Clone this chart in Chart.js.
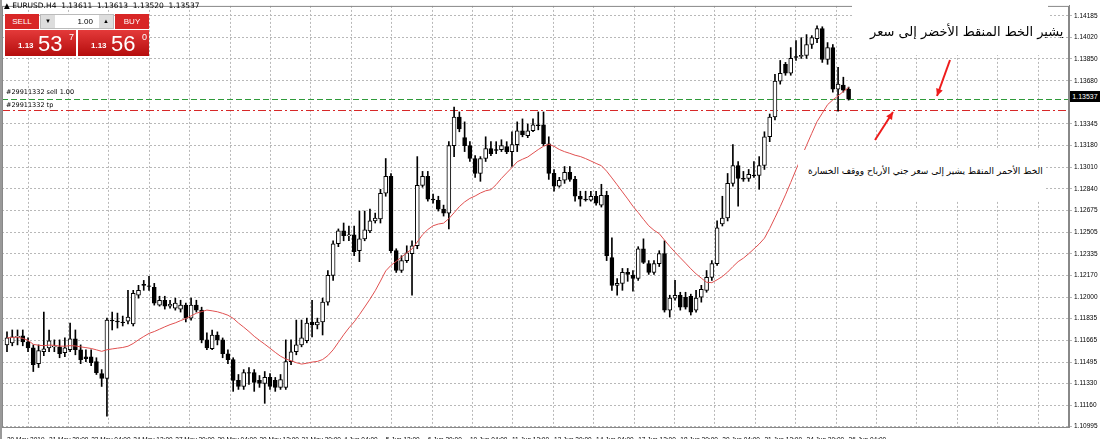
<!DOCTYPE html>
<html><head><meta charset="utf-8">
<script src="https://cdn.jsdelivr.net/npm/chart.js@4.4.1/dist/chart.umd.min.js"></script>
<style>
body{margin:0;background:#fff;font-family:Tahoma,"DejaVu Sans",sans-serif}
#wrap{position:relative;width:1101px;height:439px;overflow:hidden}
canvas{position:absolute;left:0;top:0}
.ov{position:absolute;font-size:7px;color:#000;white-space:nowrap}
.btn{position:absolute;background:linear-gradient(#e43a3a,#b50d0d);color:#fff;font-family:"Liberation Sans",Arial,sans-serif}
</style></head><body>
<div id="wrap">
<canvas id="c" width="1101" height="439"></canvas>
<div class="ov" style="left:4px;top:1px;font-size:7.5px;font-family:'DejaVu Sans',sans-serif">▲ EURUSD.H4&nbsp; 1.13611&nbsp; 1.13613&nbsp; 1.13520&nbsp; 1.13537</div>
<div class="btn" style="left:5px;top:14px;width:34px;height:15px;font-size:8px;line-height:15px;text-align:center;background:#d82626">SELL</div>
<div style="position:absolute;left:40px;top:14px;width:74px;height:15px;background:#fff;border:1px solid #bbb;box-sizing:border-box;font-size:8px;font-family:'Liberation Sans',Arial;line-height:13px"><span style="position:absolute;left:0;width:14px;height:13px;background:#ddd;text-align:center;font-size:6px">▼</span><span style="position:absolute;right:20px">1.00</span><span style="position:absolute;right:0;width:14px;height:13px;background:#ddd;text-align:center;font-size:6px">▲</span></div>
<div class="btn" style="left:115px;top:14px;width:34px;height:15px;font-size:8px;line-height:15px;text-align:center;background:#d82626">BUY</div>
<div class="btn" style="left:5px;top:30px;width:71px;height:26px"><span style="position:absolute;left:13px;top:11px;font-size:8px;font-weight:bold">1.13</span><span style="position:absolute;left:33px;top:1px;font-size:22px">53</span><span style="position:absolute;left:64px;top:2px;font-size:9px">7</span></div>
<div class="btn" style="left:78px;top:30px;width:71px;height:26px"><span style="position:absolute;left:13px;top:11px;font-size:8px;font-weight:bold">1.13</span><span style="position:absolute;left:33px;top:1px;font-size:22px">56</span><span style="position:absolute;left:64px;top:2px;font-size:9px">0</span></div>
<div class="ov" style="left:6px;top:88px;font-size:6.5px">#29911332 sell 1.00</div>
<div class="ov" style="left:6px;top:101px;font-size:6.5px">#29911332 tp</div>
<div style="position:absolute;left:852px;top:3px;width:196px;height:52px;background:#fff"></div>
<div class="ov" dir="rtl" style="left:870px;top:24px;font-size:13px;font-family:'DejaVu Sans',sans-serif">يشير الخط المنقط الأخضر إلى سعر</div>
<div style="position:absolute;left:798px;top:150px;width:248px;height:50px;background:#fff"></div>
<div class="ov" dir="rtl" style="left:808px;top:166px;font-size:9px;font-family:'DejaVu Sans',sans-serif">الخط الأحمر المنقط يشير إلى سعر جني الأرباح ووقف الخسارة</div>
<div style="position:absolute;left:1070px;top:91px;width:30px;height:11px;background:#000;color:#fff;font-size:7px;line-height:11px;text-align:center;font-family:'Liberation Sans',Arial">1.13537</div>
</div>
<script>
const xLabels=["20 May 2019","21 May 20:00","23 May 04:00","24 May 12:00","27 May 20:00","29 May 04:00","30 May 12:00","31 May 20:00","4 Jun 04:00","5 Jun 12:00","6 Jun 20:00","10 Jun 04:00","11 Jun 12:00","12 Jun 20:00","14 Jun 04:00","17 Jun 12:00","18 Jun 20:00","20 Jun 04:00","21 Jun 12:00","24 Jun 20:00","26 Jun 04:00"];
const yTicks=[1.10995,1.11160,1.11330,1.11495,1.11665,1.11835,1.12000,1.12170,1.12335,1.12505,1.12675,1.12840,1.13010,1.13180,1.13345,1.13680,1.13850,1.14020,1.14185];
const openP=[1.11628,1.11644,1.11690,1.11698,1.11652,1.11605,1.11482,1.11575,1.11605,1.11613,1.11613,1.11567,1.11590,1.11675,1.11590,1.11536,1.11536,1.11498,1.11405,1.11367,
1.11821,1.11813,1.11806,1.11813,1.11790,1.12014,1.12098,1.12083,1.12075,1.11937,1.11975,1.11929,1.11914,1.11906,1.11937,1.11836,1.11937,1.11898,1.11667,1.11598,
1.11705,1.11667,1.11559,1.11513,1.11352,1.11305,1.11413,1.11413,1.11352,1.11328,1.11375,1.11352,1.11298,1.11298,1.11498,1.11575,1.11628,1.11660,1.11806,1.11783,
1.11806,1.11960,1.12168,1.12414,1.12514,1.12476,1.12483,1.12360,1.12452,1.12514,1.12591,1.12606,1.12806,1.12937,1.12360,1.12206,1.12283,1.12337,1.12398,1.12868,
1.12937,1.12760,1.12752,1.12683,1.12652,1.13176,1.13399,1.13238,1.13176,1.13076,1.12961,1.13076,1.13153,1.13145,1.13145,1.13168,1.13130,1.13184,1.13292,1.13253,
1.13292,1.13338,1.13338,1.13191,1.12961,1.12861,1.12907,1.12968,1.12914,1.12783,1.12760,1.12752,1.12783,1.12714,1.12791,1.12306,1.12090,1.12106,1.12191,1.12168,
1.12145,1.12375,1.12260,1.12191,1.12260,1.12337,1.11898,1.11991,1.12014,1.11998,1.12006,1.11898,1.11998,1.12052,1.12152,1.12260,1.12568,1.12614,1.12883,1.13022,
1.12922,1.12922,1.12945,1.12945,1.13022,1.13245,1.13399,1.13677,1.13808,1.13739,1.13869,1.13869,1.13877,1.13962,1.14008,1.14085,1.13846,1.13938,1.13615,1.13646,1.13615];
const highP=[1.11729,1.11744,1.11744,1.11744,1.11682,1.11628,1.11628,1.11883,1.11744,1.11667,1.11667,1.11682,1.11798,1.11744,1.11628,1.11590,1.11590,1.11528,1.11436,1.11836,
1.11883,1.11875,1.11852,1.12052,1.12052,1.12091,1.12129,1.12160,1.12106,1.12006,1.12006,1.11975,1.11991,1.11975,1.11952,1.11991,1.11975,1.11921,1.11721,1.11744,
1.11729,1.11682,1.11590,1.11528,1.11398,1.11436,1.11452,1.11436,1.11390,1.11421,1.11405,1.11375,1.11398,1.11667,1.11667,1.11821,1.11821,1.11836,1.11975,1.11836,
1.11991,1.12206,1.12437,1.12529,1.12575,1.12552,1.12552,1.12668,1.12668,1.12683,1.12652,1.12837,1.13076,1.12960,1.12375,1.12321,1.12398,1.12437,1.13091,1.12976,
1.12976,1.12799,1.12783,1.12714,1.13207,1.13476,1.13438,1.13361,1.13207,1.13099,1.13091,1.13245,1.13207,1.13207,1.13222,1.13207,1.13284,1.13361,1.13384,1.13345,
1.13384,1.13438,1.13438,1.13245,1.12991,1.12930,1.13014,1.13014,1.12937,1.12822,1.12822,1.12822,1.12822,1.12876,1.12822,1.12460,1.12144,1.12222,1.12222,1.12206,
1.12391,1.12452,1.12283,1.12283,1.12360,1.12437,1.12014,1.12129,1.12037,1.12037,1.12022,1.12052,1.12091,1.12206,1.12283,1.12591,1.12783,1.12960,1.13184,1.13053,
1.12976,1.12991,1.13053,1.13091,1.13284,1.13422,1.13731,1.13838,1.13823,1.13938,1.13992,1.14015,1.14039,1.14031,1.14108,1.14100,1.13977,1.13962,1.13785,1.13708,1.13631];
const lowP=[1.11575,1.11621,1.11628,1.11621,1.11575,1.11421,1.11452,1.11544,1.11575,1.11575,1.11528,1.11536,1.11575,1.11551,1.11482,1.11498,1.11467,1.11398,1.11305,1.11074,
1.11744,1.11759,1.11775,1.11790,1.11775,1.11991,1.12052,1.12052,1.11937,1.11929,1.11906,1.11914,1.11898,1.11883,1.11806,1.11821,1.11883,1.11644,1.11590,1.11590,
1.11628,1.11528,1.11482,1.11267,1.11282,1.11282,1.11321,1.11267,1.11298,1.11174,1.11282,1.11267,1.11282,1.11282,1.11475,1.11551,1.11613,1.11644,1.11690,1.11752,
1.11705,1.11937,1.12129,1.12391,1.12437,1.12437,1.12321,1.12275,1.12437,1.12499,1.12575,1.12575,1.12783,1.12344,1.12191,1.12191,1.12268,1.12014,1.12375,1.12853,
1.12745,1.12729,1.12668,1.12629,1.12529,1.13091,1.13284,1.13130,1.13053,1.12930,1.12899,1.13053,1.13099,1.13114,1.13130,1.13114,1.13014,1.13130,1.13245,1.13238,
1.13284,1.13299,1.13176,1.12914,1.12822,1.12853,1.12883,1.12899,1.12745,1.12706,1.12745,1.12745,1.12714,1.12699,1.12283,1.12052,1.12014,1.12052,1.12122,1.12045,
1.12129,1.12260,1.12176,1.12176,1.12237,1.11883,1.11844,1.11975,1.11898,1.11906,1.11860,1.11883,1.11960,1.12037,1.12129,1.12245,1.12552,1.12591,1.12861,1.12706,
1.12899,1.12899,1.12930,1.12837,1.12991,1.13207,1.13376,1.13654,1.13723,1.13723,1.13838,1.13854,1.13854,1.13931,1.13977,1.13823,1.13808,1.13592,1.13445,1.13592,1.13530];
const closeP=[1.11682,1.11690,1.11690,1.11652,1.11605,1.11475,1.11583,1.11598,1.11660,1.11613,1.11559,1.11605,1.11675,1.11590,1.11513,1.11521,1.11490,1.11413,1.11367,1.11821,
1.11815,1.11806,1.11800,1.11844,1.12029,1.12052,1.12091,1.12080,1.11952,1.11975,1.11929,1.11944,1.11952,1.11937,1.11836,1.11937,1.11898,1.11667,1.11605,1.11705,
1.11667,1.11559,1.11513,1.11352,1.11305,1.11413,1.11408,1.11336,1.11328,1.11375,1.11305,1.11298,1.11359,1.11498,1.11575,1.11628,1.11682,1.11798,1.11783,1.11806,
1.11960,1.12168,1.12414,1.12514,1.12476,1.12483,1.12352,1.12452,1.12522,1.12591,1.12614,1.12806,1.12937,1.12360,1.12206,1.12283,1.12344,1.12398,1.12868,1.12937,
1.12760,1.12755,1.12683,1.12652,1.13176,1.13399,1.13307,1.13176,1.13076,1.12961,1.13076,1.13153,1.13114,1.13140,1.13176,1.13130,1.13184,1.13292,1.13261,1.13292,
1.13338,1.13331,1.13191,1.12961,1.12861,1.12907,1.12968,1.12914,1.12783,1.12760,1.12755,1.12783,1.12729,1.12791,1.12321,1.12090,1.12106,1.12191,1.12176,1.12145,
1.12375,1.12268,1.12191,1.12260,1.12337,1.11898,1.11991,1.12014,1.11921,1.11921,1.11883,1.11991,1.12060,1.12152,1.12260,1.12537,1.12614,1.12883,1.13022,1.12922,
1.12915,1.12953,1.12940,1.13022,1.13245,1.13399,1.13677,1.13739,1.13739,1.13854,1.13862,1.13877,1.13962,1.14015,1.14085,1.13846,1.13938,1.13615,1.13654,1.13607,1.13537];
const sellLevel=1.13537, tpLevel=1.13453, maPeriod=20;

const n=closeP.length;
const wick=[],bodyUp=[],bodyDn=[],ma=[];
for(let i=0;i<n;i++){
  wick.push({x:i,y:[lowP[i],highP[i]]});
  let a=openP[i],b=closeP[i];
  if(Math.abs(a-b)<0.00004){b=a+0.00004;}
  (closeP[i]>=openP[i]?bodyUp:bodyDn).push({x:i,y:[a,b]});
  const s=Math.max(0,i-maPeriod+1);let sum=0;for(let j=s;j<=i;j++)sum+=closeP[j];
  ma.push({x:i,y:sum/(i-s+1)});
}
const F={family:"'Liberation Sans',Arial,sans-serif",size:6.5};
const overlay={id:'ov',
 beforeDatasetsDraw(c){const {ctx,chartArea:a,scales:{y}}=c;ctx.save();
  ctx.lineWidth=1;
  let gy=Math.round(y.getPixelForValue(sellLevel))+0.5;ctx.strokeStyle='#2e9a3a';ctx.setLineDash([6,3]);
  ctx.beginPath();ctx.moveTo(a.left,gy);ctx.lineTo(a.right,gy);ctx.stroke();
  let ry=Math.round(y.getPixelForValue(tpLevel))+0.5;ctx.strokeStyle='rgb(215,40,40)';ctx.setLineDash([8,3,2,3]);
  ctx.beginPath();ctx.moveTo(a.left,ry);ctx.lineTo(a.right,ry);ctx.stroke();ctx.restore();},
 afterDraw(c){const {ctx,chartArea:a}=c;ctx.save();ctx.setLineDash([]);
  ctx.strokeStyle='#888';ctx.lineWidth=1;ctx.strokeRect(a.left+0.5,a.top+0.5,a.right-a.left-1,a.bottom-a.top);
  ctx.fillStyle='#999';ctx.fillRect(0,0,2,439);
  function arrow(x1,y1,x2,y2){ctx.strokeStyle='#ee1c1c';ctx.fillStyle='#ee1c1c';ctx.lineWidth=2;
   ctx.beginPath();ctx.moveTo(x1,y1);ctx.lineTo(x2,y2);ctx.stroke();
   const ang=Math.atan2(y2-y1,x2-x1),L=8;ctx.beginPath();ctx.moveTo(x2,y2);
   ctx.lineTo(x2-L*Math.cos(ang-0.45),y2-L*Math.sin(ang-0.45));ctx.lineTo(x2-L*Math.cos(ang+0.45),y2-L*Math.sin(ang+0.45));ctx.closePath();ctx.fill();}
  arrow(950,60,937,96);arrow(875,140,893,112);
  ctx.restore();}};
new Chart(document.getElementById('c'),{
 type:'bar',
 data:{datasets:[
  {type:'line',data:ma,borderColor:'#e05050',borderWidth:1,pointRadius:0,tension:0,order:0},
  {data:bodyUp,backgroundColor:'#fff',borderColor:'#000',borderWidth:1,borderSkipped:false,barThickness:4,grouped:false,order:1},
  {data:bodyDn,backgroundColor:'#000',borderColor:'#000',borderWidth:1,borderSkipped:false,barThickness:4,grouped:false,order:1},
  {data:wick,backgroundColor:'#000',barThickness:1,grouped:false,order:2}
 ]},
 options:{animation:false,responsive:false,events:[],
  layout:{padding:{left:2,top:2}},
  plugins:{legend:{display:false},tooltip:{enabled:false}},
  scales:{
   x:{type:'linear',min:-0.95,max:201.9,offset:false,
     afterBuildTicks(s){s.ticks=xLabels.map((_,k)=>({value:k*8}));},
     afterFit(s){s.height=12;},
     ticks:{align:'start',padding:1,maxRotation:0,autoSkip:false,font:F,color:'#000',callback:(v,k)=>xLabels[k]},
     grid:{display:false},border:{display:false}},
   x2:{type:'linear',min:-0.95,max:201.9,display:true,position:'bottom',
     afterBuildTicks(s){const t=[];for(let k=4;k<202;k+=8)t.push({value:k});s.ticks=t;},
     afterFit(s){s.height=0;},
     ticks:{display:false},grid:{color:'#b8b8b8',lineWidth:1,drawTicks:false},border:{display:true,color:'#b8b8b8',dash:[2,2]}},
   y:{position:'right',min:1.1099,max:1.14262,
     afterBuildTicks(s){s.ticks=yTicks.map(v=>({value:v}));},
     afterFit(s){s.width=32;},
     ticks:{font:F,color:'#000',padding:2,callback:v=>v.toFixed(5)},
     grid:{color:'#b8b8b8',tickLength:3},border:{display:true,color:'#888',dash:[2,2]}}
  }},
 plugins:[overlay]
});
</script></body></html>
